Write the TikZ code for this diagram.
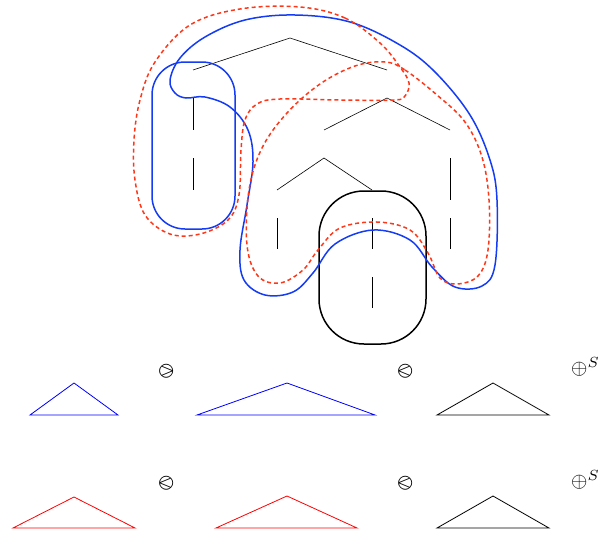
\documentclass[tikz,border=0pt]{standalone}
\usepackage{amssymb}
\usepackage{stmaryrd}
\definecolor{curvered}{RGB}{255,55,25}
\definecolor{curveblue}{RGB}{20,60,245}
\newcommand{\bigop}[1]{\scalebox{2.1}{#1}}
\tikzset{
  treeedge/.style={line width=0.6pt, black},
  bluecurve/.style={line width=1.5pt, curveblue},
  redcurve/.style={line width=1.5pt, curvered, dash pattern=on 4pt off 3pt},
  blackcurve/.style={line width=1.5pt, black},
  tri/.style={line width=0.8pt},
  opsym/.style={inner sep=0pt}
}
\begin{document}
\begin{tikzpicture}[x=1pt, y=-1pt]
\useasboundingbox (0,0) rectangle (605,533);

% tree nodes
\coordinate (r) at (290,38);
\coordinate (a) at (193,70);
\coordinate (b) at (387,70);
\coordinate (a1t) at (193,98);  \coordinate (a1b) at (193,130);
\coordinate (a2t) at (193,158); \coordinate (a2b) at (193,190);
\coordinate (bn) at (387,98);
\coordinate (bl) at (324,130);
\coordinate (br) at (450,130);
\coordinate (cn) at (324,158);
\coordinate (cl) at (277,190);
\coordinate (cr) at (372,190);
\coordinate (cl1t) at (277,218); \coordinate (cl1b) at (277,249);
\coordinate (cr1t) at (372,218); \coordinate (cr1b) at (372,249);
\coordinate (cr2t) at (372,277); \coordinate (cr2b) at (372,308);
\coordinate (br1t) at (450,158); \coordinate (br1b) at (450,200);
\coordinate (br2t) at (450,218); \coordinate (br2b) at (450,249);

\draw[treeedge] (a) -- (r) -- (b);
\draw[treeedge] (a1t) -- (a1b);
\draw[treeedge] (a2t) -- (a2b);
\draw[treeedge] (bl) -- (bn) -- (br);
\draw[treeedge] (cl) -- (cn) -- (cr);
\draw[treeedge] (cl1t) -- (cl1b);
\draw[treeedge] (cr1t) -- (cr1b);
\draw[treeedge] (cr2t) -- (cr2b);
\draw[treeedge] (br1t) -- (br1b);
\draw[treeedge] (br2t) -- (br2b);

% black box
\draw[blackcurve, rounded corners=45pt] (319,191) rectangle (426,344);

% small blue loop
\draw[bluecurve, rounded corners=33pt] (152,62) rectangle (235,229);

% big blue shape
\draw[bluecurve] plot[smooth cycle, tension=0.6] coordinates {
 (186,98) (205,97) (230,107) (248,130) (253,162) (247,205) (240,250)
 (244,280) (265,295) (293,292) (313,273) (335,244) (373,230) (410,240)
 (432,267) (455,287) (482,286) (495,265) (497,200) (490,160) (470,115)
 (435,72) (400,45) (350,22) (295,15) (245,20) (205,37) (180,58)
 (170,80) (175,93)};

% red shape A (root + left subtree)
\draw[redcurve] plot[smooth cycle, tension=0.6] coordinates {
 (300,7) (345,18) (380,43) (400,67) (409,83) (405,96) (394,100)
 (340,100) (280,99) (257,104) (245,120) (241,150) (239,195) (228,220)
 (200,234) (170,234) (145,215) (135,180) (134,140) (140,100) (155,62)
 (190,25) (240,9)};

% red shape B (right subtree)
\draw[redcurve] plot[smooth cycle, tension=0.6] coordinates {
 (385,62) (405,70) (437,95) (465,122) (482,157) (489,200) (488,250)
 (478,276) (457,284) (440,278) (428,253) (410,230) (377,222) (340,228)
 (318,250) (303,270) (280,283) (258,276) (247,245) (249,190) (262,148)
 (287,113) (320,84) (355,66)};

% bottom row 1
\draw[tri, blue] (74,383) -- (30,415) -- (118,415) -- cycle;
\node[opsym] (s11) at (167,371) {\bigop{$\varogreaterthan$}};
\draw[tri, blue] (287,383) -- (197,415) -- (375,415) -- cycle;
\node[opsym] (s12) at (406,371) {\bigop{$\varolessthan$}};
\draw[tri, black] (493,383) -- (437,415) -- (549,415) -- cycle;
\node[opsym, anchor=west] (s13) at (571,367) {\bigop{$\oplus^{S}$}};

% bottom row 2
\draw[tri, red] (74,497) -- (13,528) -- (135,528) -- cycle;
\node[opsym] (s21) at (167,483) {\bigop{$\varolessthan$}};
\draw[tri, red] (287,496) -- (216,528) -- (357,528) -- cycle;
\node[opsym] (s22) at (406,483) {\bigop{$\varolessthan$}};
\draw[tri, black] (493,496) -- (437,528) -- (549,528) -- cycle;
\node[opsym, anchor=west] (s23) at (571,480) {\bigop{$\oplus^{S}$}};
\end{tikzpicture}
\end{document}
